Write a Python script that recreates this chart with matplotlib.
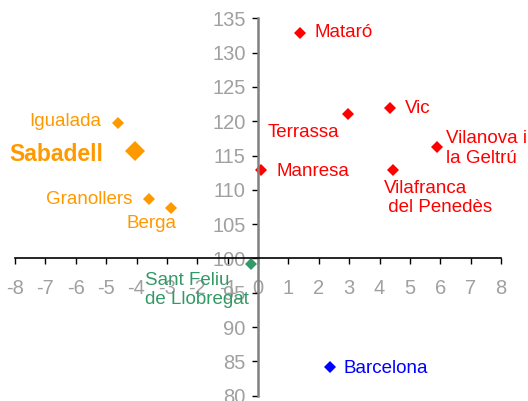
import matplotlib
matplotlib.use("Agg")
import matplotlib.pyplot as plt

plt.rcParams['font.family'] = ['Liberation Sans', 'DejaVu Sans']
plt.rcParams['axes.unicode_minus'] = False

# data
cities = ["Mataró", "Terrassa", "Vic", "Vilanova i\nla Geltrú", "Manresa",
          "Vilafranca\n del Penedès", "Barcelona", "Sant Feliu\nde Llobregat",
          "Igualada", "Sabadell", "Granollers", "Berga"]
x_vals = [1.39, 2.96, 4.34, 5.88, 0.10, 4.45, 2.37, -0.24, -4.62, -4.05, -3.60, -2.87]
y_vals = [132.9, 121.0, 121.9, 116.3, 112.9, 112.9, 84.2, 99.2, 119.8, 115.6, 108.6, 107.3]
groups = ["red", "red", "red", "red", "red", "red", "blue", "green",
          "orange", "orange", "orange", "orange"]

colors = {"red": "#FF0000", "blue": "#0000FF", "green": "#339966", "orange": "#FF9900"}

# label offsets (points) and alignment
label_style = {
    "Mataró": (10, 0, "left", "center"),
    "Terrassa": (-6, -13, "right", "center"),
    "Vic": (11, 0, "left", "center"),
    "Vilanova i\nla Geltrú": (7, -1.5, "left", "center"),
    "Manresa": (11, -1, "left", "center"),
    "Vilafranca\n del Penedès": (-7, -7, "left", "top"),
    "Barcelona": (10, -1, "left", "center"),
    "Sant Feliu\nde Llobregat": (-39, -5.5, "center", "top"),
    "Igualada": (-12, 1, "right", "center"),
    "Sabadell": (-23, -2, "right", "center"),
    "Granollers": (-12, 0, "right", "center"),
    "Berga": (4, -11, "right", "center"),
}

fig = plt.figure(figsize=(5.28, 4.01), dpi=100)
ax = fig.add_axes([0.0284, 0.0132, 0.9205, 0.9412])

for name, x, y, g in zip(cities, x_vals, y_vals, groups):
    big = name == "Sabadell"
    ax.plot(x, y, marker="D", linestyle="none", color=colors[g],
            markersize=10.5 if big else 6.5, markeredgewidth=0)
    dx, dy, ha, va = label_style[name]
    ax.annotate(name, (x, y), xytext=(dx, dy), textcoords="offset points",
                ha=ha, va=va, color=colors[g],
                fontsize=16.5 if big else 13.5,
                fontweight="bold" if big else "normal",
                linespacing=1.2, multialignment="left")

ax.set_xlim(-8, 8)
ax.set_ylim(80, 135)
ax.set_xticks(range(-8, 9))
ax.set_yticks(range(80, 136, 5))

ax.spines['left'].set_position(('data', 0))
ax.spines['bottom'].set_position(('data', 100))
ax.spines['top'].set_visible(False)
ax.spines['right'].set_visible(False)
ax.spines['left'].set_color('#808080')
ax.spines['left'].set_linewidth(1.8)
ax.spines['bottom'].set_color('black')
ax.spines['bottom'].set_linewidth(1.2)

ax.tick_params(axis='x', direction='out', length=4, width=1, pad=11,
               labelsize=14.5, colors='black')
ax.tick_params(axis='y', direction='out', length=4, width=1, pad=5,
               labelsize=14.5, colors='black')
for lbl in ax.get_xticklabels() + ax.get_yticklabels():
    lbl.set_color('#A0A0A0')

ax.patch.set_visible(False)
fig.savefig("out.png", dpi=100)
